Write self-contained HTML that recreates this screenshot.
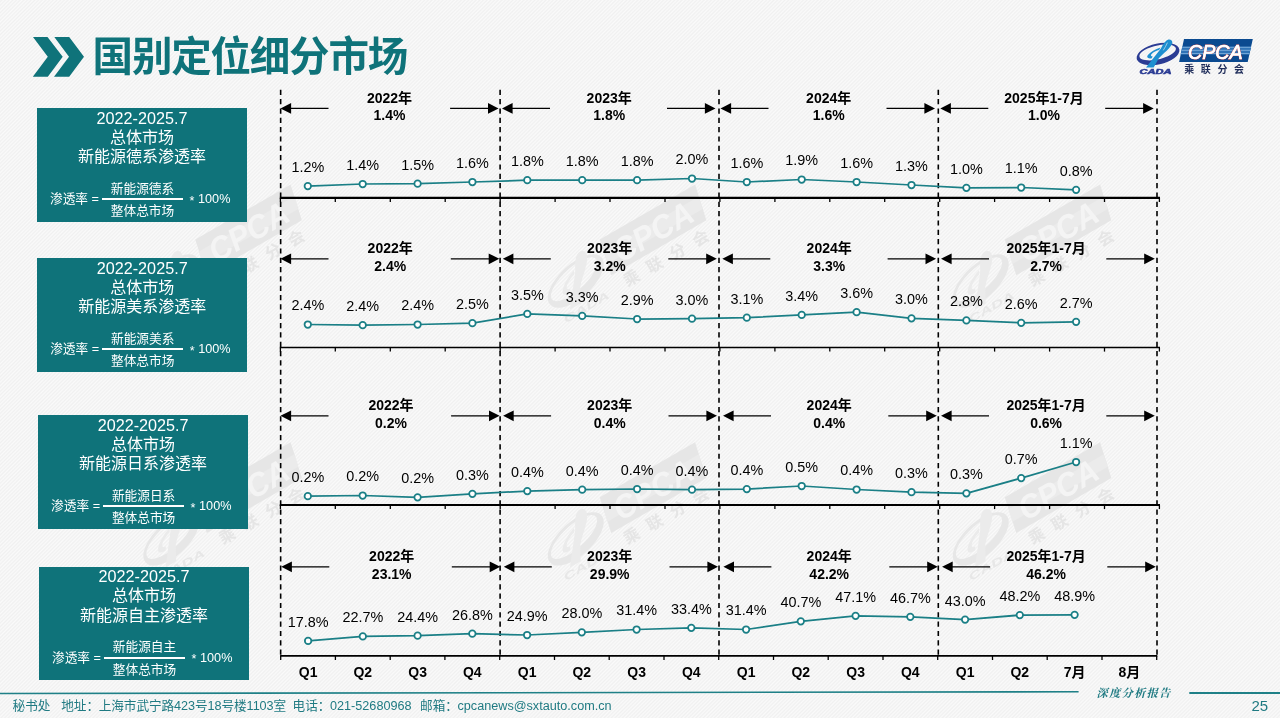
<!DOCTYPE html>
<html lang="zh-CN"><head><meta charset="utf-8"><title>国别定位细分市场</title>
<style>
html,body{margin:0;padding:0}
body{width:1280px;height:718px;overflow:hidden;position:relative;font-family:"Liberation Sans","Noto Sans CJK SC",sans-serif;
background:#f5f5f5 repeating-linear-gradient(135deg,#fafafa 0,#f0f0f0 1.3px,#fafafa 2.6px);}
svg{position:absolute;left:0;top:0}
.title{position:absolute;left:92.6px;top:29.2px;font-size:40.5px;line-height:56px;font-weight:bold;color:#0f737a;white-space:nowrap;letter-spacing:-1.2px}
.box{position:absolute;width:210px;height:113.7px;background:#0f737a;color:#fff;text-align:center}
.box div{position:absolute;left:0;width:100%;white-space:nowrap}
.t1{top:0.8px;font-size:16.2px;line-height:19px}
.t2{top:19.5px;font-size:16px;line-height:19px}
.t3{top:39px;font-size:16px;line-height:19px}
.f{top:70px;height:42px;font-size:12.7px}
.f span{position:absolute;white-space:nowrap}
.fl{left:13px;top:12px;line-height:18px}
.frac{left:65px;top:0;width:81px;height:42px}
.num{left:0;width:81px;top:1.5px;line-height:18px;text-align:center}
.bar{left:0;width:81px;top:20px;height:2px;background:#fff}
.den{left:0;width:81px;top:24px;line-height:18px;text-align:center}
.fr{left:152.5px;top:12px;line-height:18px}
.fr b{font-weight:normal;position:relative;top:1.8px}
.chart text{font-family:"Liberation Sans","Noto Sans CJK SC",sans-serif;text-anchor:middle}
.yr{font-size:14px;font-weight:bold;fill:#000}
.dl{font-size:14.4px;fill:#000}
.ql{font-size:14px;font-weight:bold;fill:#000}
.foot{position:absolute;left:0;top:696.5px;font-size:12.65px;line-height:18px;color:#1f7a82;white-space:nowrap}
.foot span{position:absolute;top:0}
.pg{position:absolute;left:1251.4px;top:697.3px;font-size:15px;line-height:18px;color:#1f7a82}
.rep{position:absolute;left:1096.6px;top:685.3px;font-size:11.3px;line-height:16px;color:#1f7a82;font-family:"Liberation Serif","Noto Serif CJK SC",serif;font-style:italic;font-weight:bold;letter-spacing:1.2px;white-space:nowrap}
</style></head><body>
<svg class="wm" width="1280" height="718" viewBox="0 0 1280 718"><g transform="translate(224.5,255.0) rotate(-30) scale(1.6) translate(-1195,-56.5)"><g transform="translate(1130,34) scale(0.06402)">
<path fill-rule="evenodd" fill="#e7e7e7" d="M106,352 A332,158 -13 1 0 770,272 A332,158 -13 1 0 106,352 Z M152,322 A285,106 -13 1 0 712,254 A285,106 -13 1 0 152,322 Z"/>
<path fill="#ebebeb" d="M600,85 C560,95 520,150 480,230 L250,525 L370,525 L450,380 C520,300 640,220 660,140 C665,100 640,80 600,85 Z"/>
<path fill="#ebebeb" d="M475,212 C400,235 300,290 270,345 C262,372 290,388 335,382 L355,350 C330,347 318,335 335,315 C360,285 420,258 455,250 Z"/>
</g>
<text x="1139.6" y="73.7" font-size="6.6" font-style="italic" font-weight="bold" fill="#e7e7e7" font-family='"Liberation Sans","Noto Sans CJK SC",sans-serif' textLength="32" lengthAdjust="spacingAndGlyphs">CADA</text>
<path d="M1184,39 L1252.8,39 L1247.7,61.9 L1179.1,61.9 Z" fill="#e6e6e6"/>
<path d="M1182.3,46.6 L1251.1,46.6 L1249.3,54.6 L1180.6,54.6 Z" fill="#ebebeb"/>
<text x="1188" y="58.5" font-size="20.4" font-style="italic" font-weight="bold" fill="#f4f4f4" font-family='"Liberation Sans","Noto Sans CJK SC",sans-serif' textLength="54.5" lengthAdjust="spacingAndGlyphs">CPCA</text>
<text x="1184.2" y="73.4" font-size="10" font-weight="bold" fill="#e5e5e5" font-family='"Liberation Sans","Noto Sans CJK SC",sans-serif' letter-spacing="6.6">乘联分会</text></g>
<g transform="translate(629.0,255.0) rotate(-30) scale(1.6) translate(-1195,-56.5)"><g transform="translate(1130,34) scale(0.06402)">
<path fill-rule="evenodd" fill="#e7e7e7" d="M106,352 A332,158 -13 1 0 770,272 A332,158 -13 1 0 106,352 Z M152,322 A285,106 -13 1 0 712,254 A285,106 -13 1 0 152,322 Z"/>
<path fill="#ebebeb" d="M600,85 C560,95 520,150 480,230 L250,525 L370,525 L450,380 C520,300 640,220 660,140 C665,100 640,80 600,85 Z"/>
<path fill="#ebebeb" d="M475,212 C400,235 300,290 270,345 C262,372 290,388 335,382 L355,350 C330,347 318,335 335,315 C360,285 420,258 455,250 Z"/>
</g>
<text x="1139.6" y="73.7" font-size="6.6" font-style="italic" font-weight="bold" fill="#e7e7e7" font-family='"Liberation Sans","Noto Sans CJK SC",sans-serif' textLength="32" lengthAdjust="spacingAndGlyphs">CADA</text>
<path d="M1184,39 L1252.8,39 L1247.7,61.9 L1179.1,61.9 Z" fill="#e6e6e6"/>
<path d="M1182.3,46.6 L1251.1,46.6 L1249.3,54.6 L1180.6,54.6 Z" fill="#ebebeb"/>
<text x="1188" y="58.5" font-size="20.4" font-style="italic" font-weight="bold" fill="#f4f4f4" font-family='"Liberation Sans","Noto Sans CJK SC",sans-serif' textLength="54.5" lengthAdjust="spacingAndGlyphs">CPCA</text>
<text x="1184.2" y="73.4" font-size="10" font-weight="bold" fill="#e5e5e5" font-family='"Liberation Sans","Noto Sans CJK SC",sans-serif' letter-spacing="6.6">乘联分会</text></g>
<g transform="translate(1034.0,255.0) rotate(-30) scale(1.6) translate(-1195,-56.5)"><g transform="translate(1130,34) scale(0.06402)">
<path fill-rule="evenodd" fill="#e7e7e7" d="M106,352 A332,158 -13 1 0 770,272 A332,158 -13 1 0 106,352 Z M152,322 A285,106 -13 1 0 712,254 A285,106 -13 1 0 152,322 Z"/>
<path fill="#ebebeb" d="M600,85 C560,95 520,150 480,230 L250,525 L370,525 L450,380 C520,300 640,220 660,140 C665,100 640,80 600,85 Z"/>
<path fill="#ebebeb" d="M475,212 C400,235 300,290 270,345 C262,372 290,388 335,382 L355,350 C330,347 318,335 335,315 C360,285 420,258 455,250 Z"/>
</g>
<text x="1139.6" y="73.7" font-size="6.6" font-style="italic" font-weight="bold" fill="#e7e7e7" font-family='"Liberation Sans","Noto Sans CJK SC",sans-serif' textLength="32" lengthAdjust="spacingAndGlyphs">CADA</text>
<path d="M1184,39 L1252.8,39 L1247.7,61.9 L1179.1,61.9 Z" fill="#e6e6e6"/>
<path d="M1182.3,46.6 L1251.1,46.6 L1249.3,54.6 L1180.6,54.6 Z" fill="#ebebeb"/>
<text x="1188" y="58.5" font-size="20.4" font-style="italic" font-weight="bold" fill="#f4f4f4" font-family='"Liberation Sans","Noto Sans CJK SC",sans-serif' textLength="54.5" lengthAdjust="spacingAndGlyphs">CPCA</text>
<text x="1184.2" y="73.4" font-size="10" font-weight="bold" fill="#e5e5e5" font-family='"Liberation Sans","Noto Sans CJK SC",sans-serif' letter-spacing="6.6">乘联分会</text></g>
<g transform="translate(224.5,512.8) rotate(-30) scale(1.6) translate(-1195,-56.5)"><g transform="translate(1130,34) scale(0.06402)">
<path fill-rule="evenodd" fill="#e7e7e7" d="M106,352 A332,158 -13 1 0 770,272 A332,158 -13 1 0 106,352 Z M152,322 A285,106 -13 1 0 712,254 A285,106 -13 1 0 152,322 Z"/>
<path fill="#ebebeb" d="M600,85 C560,95 520,150 480,230 L250,525 L370,525 L450,380 C520,300 640,220 660,140 C665,100 640,80 600,85 Z"/>
<path fill="#ebebeb" d="M475,212 C400,235 300,290 270,345 C262,372 290,388 335,382 L355,350 C330,347 318,335 335,315 C360,285 420,258 455,250 Z"/>
</g>
<text x="1139.6" y="73.7" font-size="6.6" font-style="italic" font-weight="bold" fill="#e7e7e7" font-family='"Liberation Sans","Noto Sans CJK SC",sans-serif' textLength="32" lengthAdjust="spacingAndGlyphs">CADA</text>
<path d="M1184,39 L1252.8,39 L1247.7,61.9 L1179.1,61.9 Z" fill="#e6e6e6"/>
<path d="M1182.3,46.6 L1251.1,46.6 L1249.3,54.6 L1180.6,54.6 Z" fill="#ebebeb"/>
<text x="1188" y="58.5" font-size="20.4" font-style="italic" font-weight="bold" fill="#f4f4f4" font-family='"Liberation Sans","Noto Sans CJK SC",sans-serif' textLength="54.5" lengthAdjust="spacingAndGlyphs">CPCA</text>
<text x="1184.2" y="73.4" font-size="10" font-weight="bold" fill="#e5e5e5" font-family='"Liberation Sans","Noto Sans CJK SC",sans-serif' letter-spacing="6.6">乘联分会</text></g>
<g transform="translate(629.0,512.8) rotate(-30) scale(1.6) translate(-1195,-56.5)"><g transform="translate(1130,34) scale(0.06402)">
<path fill-rule="evenodd" fill="#e7e7e7" d="M106,352 A332,158 -13 1 0 770,272 A332,158 -13 1 0 106,352 Z M152,322 A285,106 -13 1 0 712,254 A285,106 -13 1 0 152,322 Z"/>
<path fill="#ebebeb" d="M600,85 C560,95 520,150 480,230 L250,525 L370,525 L450,380 C520,300 640,220 660,140 C665,100 640,80 600,85 Z"/>
<path fill="#ebebeb" d="M475,212 C400,235 300,290 270,345 C262,372 290,388 335,382 L355,350 C330,347 318,335 335,315 C360,285 420,258 455,250 Z"/>
</g>
<text x="1139.6" y="73.7" font-size="6.6" font-style="italic" font-weight="bold" fill="#e7e7e7" font-family='"Liberation Sans","Noto Sans CJK SC",sans-serif' textLength="32" lengthAdjust="spacingAndGlyphs">CADA</text>
<path d="M1184,39 L1252.8,39 L1247.7,61.9 L1179.1,61.9 Z" fill="#e6e6e6"/>
<path d="M1182.3,46.6 L1251.1,46.6 L1249.3,54.6 L1180.6,54.6 Z" fill="#ebebeb"/>
<text x="1188" y="58.5" font-size="20.4" font-style="italic" font-weight="bold" fill="#f4f4f4" font-family='"Liberation Sans","Noto Sans CJK SC",sans-serif' textLength="54.5" lengthAdjust="spacingAndGlyphs">CPCA</text>
<text x="1184.2" y="73.4" font-size="10" font-weight="bold" fill="#e5e5e5" font-family='"Liberation Sans","Noto Sans CJK SC",sans-serif' letter-spacing="6.6">乘联分会</text></g>
<g transform="translate(1034.0,512.8) rotate(-30) scale(1.6) translate(-1195,-56.5)"><g transform="translate(1130,34) scale(0.06402)">
<path fill-rule="evenodd" fill="#e7e7e7" d="M106,352 A332,158 -13 1 0 770,272 A332,158 -13 1 0 106,352 Z M152,322 A285,106 -13 1 0 712,254 A285,106 -13 1 0 152,322 Z"/>
<path fill="#ebebeb" d="M600,85 C560,95 520,150 480,230 L250,525 L370,525 L450,380 C520,300 640,220 660,140 C665,100 640,80 600,85 Z"/>
<path fill="#ebebeb" d="M475,212 C400,235 300,290 270,345 C262,372 290,388 335,382 L355,350 C330,347 318,335 335,315 C360,285 420,258 455,250 Z"/>
</g>
<text x="1139.6" y="73.7" font-size="6.6" font-style="italic" font-weight="bold" fill="#e7e7e7" font-family='"Liberation Sans","Noto Sans CJK SC",sans-serif' textLength="32" lengthAdjust="spacingAndGlyphs">CADA</text>
<path d="M1184,39 L1252.8,39 L1247.7,61.9 L1179.1,61.9 Z" fill="#e6e6e6"/>
<path d="M1182.3,46.6 L1251.1,46.6 L1249.3,54.6 L1180.6,54.6 Z" fill="#ebebeb"/>
<text x="1188" y="58.5" font-size="20.4" font-style="italic" font-weight="bold" fill="#f4f4f4" font-family='"Liberation Sans","Noto Sans CJK SC",sans-serif' textLength="54.5" lengthAdjust="spacingAndGlyphs">CPCA</text>
<text x="1184.2" y="73.4" font-size="10" font-weight="bold" fill="#e5e5e5" font-family='"Liberation Sans","Noto Sans CJK SC",sans-serif' letter-spacing="6.6">乘联分会</text></g></svg>
<svg width="100" height="50" viewBox="0 0 100 50" style="left:0;top:30px">
<path d="M33,6.9 L47.5,6.9 L62.7,26.8 L47.8,46.7 L32.8,46.7 L47.8,26.8 Z" fill="#0f737a"/>
<path d="M54.3,6.9 L69.2,6.9 L84,26.8 L69.2,46.7 L54,46.7 L69,26.8 Z" fill="#0f737a"/>
</svg>
<div class="title">国别定位细分市场</div>
<svg class="logo" width="160" height="60" viewBox="1120 25 160 60" style="left:1120px;top:25px">
<g>
<g transform="translate(1130,34) scale(0.06402)">
<path fill-rule="evenodd" fill="#2b3c94" d="M106,352 A332,158 -13 1 0 770,272 A332,158 -13 1 0 106,352 Z M152,322 A285,106 -13 1 0 712,254 A285,106 -13 1 0 152,322 Z"/>
<path fill="#1f8fd0" d="M600,85 C560,95 520,150 480,230 L250,525 L370,525 L450,380 C520,300 640,220 660,140 C665,100 640,80 600,85 Z"/>
<path fill="#1f8fd0" d="M475,212 C400,235 300,290 270,345 C262,372 290,388 335,382 L355,350 C330,347 318,335 335,315 C360,285 420,258 455,250 Z"/>
<path d="M585,135 C570,170 545,215 520,255" stroke="#f4f4f4" stroke-width="9" fill="none"/>
</g>
<text x="1139.6" y="73.7" font-size="6.6" font-style="italic" font-weight="bold" fill="#2b3c94" stroke="#2b3c94" stroke-width="0.5" font-family='"Liberation Sans","Noto Sans CJK SC",sans-serif' textLength="32" lengthAdjust="spacingAndGlyphs">CADA</text>
<path d="M1184,39 L1252.8,39 L1247.7,61.9 L1179.1,61.9 Z" fill="#0b4a90"/>
<path d="M1182.3,46.6 L1251.1,46.6 L1249.3,54.6 L1180.6,54.6 Z" fill="#2f73b6"/>
<path d="M1182.2,47.3 L1251,47.3 M1181.5,50.3 L1250.3,50.3 M1180.8,53.6 L1249.6,53.6" stroke="#8db9e2" stroke-width="0.8"/>
<text x="1188" y="58.5" font-size="20.4" font-style="italic" fill="#fff" stroke="#e0392f" stroke-width="1.1" paint-order="stroke" font-family='"Liberation Sans","Noto Sans CJK SC",sans-serif' textLength="54.5" lengthAdjust="spacingAndGlyphs">CPCA</text>
<text x="1188" y="58.5" font-size="20.4" font-style="italic" fill="#fff" stroke="#fff" stroke-width="0.5" font-family='"Liberation Sans","Noto Sans CJK SC",sans-serif' textLength="54.5" lengthAdjust="spacingAndGlyphs">CPCA</text>
<text x="1184.2" y="73.4" font-size="10" font-weight="bold" fill="#1f2d5a" font-family='"Liberation Sans","Noto Sans CJK SC",sans-serif' letter-spacing="6.6">乘联分会</text>
</g></svg>
<div class="box" style="left:37px;top:108.1px">
<div class="t1">2022-2025.7</div><div class="t2">总体市场</div><div class="t3">新能源德系渗透率</div>
<div class="f"><span class="fl">渗透率 =</span><span class="frac"><span class="num">新能源德系</span><span class="bar"></span><span class="den">整体总市场</span></span><span class="fr"><b>*</b> 100%</span></div>
</div><div class="box" style="left:37.2px;top:258.1px">
<div class="t1">2022-2025.7</div><div class="t2">总体市场</div><div class="t3">新能源美系渗透率</div>
<div class="f"><span class="fl">渗透率 =</span><span class="frac"><span class="num">新能源美系</span><span class="bar"></span><span class="den">整体总市场</span></span><span class="fr"><b>*</b> 100%</span></div>
</div><div class="box" style="left:38.1px;top:415.3px">
<div class="t1">2022-2025.7</div><div class="t2">总体市场</div><div class="t3">新能源日系渗透率</div>
<div class="f"><span class="fl">渗透率 =</span><span class="frac"><span class="num">新能源日系</span><span class="bar"></span><span class="den">整体总市场</span></span><span class="fr"><b>*</b> 100%</span></div>
</div><div class="box" style="left:39.0px;top:566.5px">
<div class="t1">2022-2025.7</div><div class="t2">总体市场</div><div class="t3">新能源自主渗透率</div>
<div class="f"><span class="fl">渗透率 =</span><span class="frac"><span class="num">新能源自主</span><span class="bar"></span><span class="den">整体总市场</span></span><span class="fr"><b>*</b> 100%</span></div>
</div>
<svg class="chart" width="1280" height="718" viewBox="0 0 1280 718">
<line x1="280.65" y1="89.77" x2="280.65" y2="655" stroke="#000" stroke-width="1.6" stroke-dasharray="5.2 4.13"/>
<line x1="500.10" y1="89.77" x2="500.10" y2="655" stroke="#000" stroke-width="1.6" stroke-dasharray="5.2 4.13"/>
<line x1="719.00" y1="89.77" x2="719.00" y2="655" stroke="#000" stroke-width="1.6" stroke-dasharray="5.2 4.13"/>
<line x1="938.30" y1="89.77" x2="938.30" y2="655" stroke="#000" stroke-width="1.6" stroke-dasharray="5.2 4.13"/>
<line x1="1157.00" y1="89.77" x2="1157.00" y2="655" stroke="#000" stroke-width="1.6" stroke-dasharray="5.2 4.13"/>
<line x1="279.8" y1="197.9" x2="1160.0" y2="197.9" stroke="#000" stroke-width="2.3"/>
<line x1="280.4" y1="197.9" x2="280.4" y2="202.0" stroke="#000" stroke-width="1.3"/>
<line x1="335.3" y1="197.9" x2="335.3" y2="202.0" stroke="#000" stroke-width="1.3"/>
<line x1="390.3" y1="197.9" x2="390.3" y2="202.0" stroke="#000" stroke-width="1.3"/>
<line x1="445.2" y1="197.9" x2="445.2" y2="202.0" stroke="#000" stroke-width="1.3"/>
<line x1="500.2" y1="197.9" x2="500.2" y2="202.0" stroke="#000" stroke-width="1.3"/>
<line x1="555.1" y1="197.9" x2="555.1" y2="202.0" stroke="#000" stroke-width="1.3"/>
<line x1="610.0" y1="197.9" x2="610.0" y2="202.0" stroke="#000" stroke-width="1.3"/>
<line x1="665.0" y1="197.9" x2="665.0" y2="202.0" stroke="#000" stroke-width="1.3"/>
<line x1="719.9" y1="197.9" x2="719.9" y2="202.0" stroke="#000" stroke-width="1.3"/>
<line x1="774.9" y1="197.9" x2="774.9" y2="202.0" stroke="#000" stroke-width="1.3"/>
<line x1="829.8" y1="197.9" x2="829.8" y2="202.0" stroke="#000" stroke-width="1.3"/>
<line x1="884.7" y1="197.9" x2="884.7" y2="202.0" stroke="#000" stroke-width="1.3"/>
<line x1="939.7" y1="197.9" x2="939.7" y2="202.0" stroke="#000" stroke-width="1.3"/>
<line x1="994.6" y1="197.9" x2="994.6" y2="202.0" stroke="#000" stroke-width="1.3"/>
<line x1="1049.6" y1="197.9" x2="1049.6" y2="202.0" stroke="#000" stroke-width="1.3"/>
<line x1="1104.5" y1="197.9" x2="1104.5" y2="202.0" stroke="#000" stroke-width="1.3"/>
<line x1="1159.4" y1="197.9" x2="1159.4" y2="202.0" stroke="#000" stroke-width="1.3"/>
<line x1="328.5" y1="108.4" x2="288.5" y2="108.4" stroke="#000" stroke-width="1.35"/><path d="M280.5,108.4 l10.6,-5.35 v10.7 Z" fill="#000"/>
<line x1="450.1" y1="108.4" x2="490.6" y2="108.4" stroke="#000" stroke-width="1.35"/><path d="M498.6,108.4 l-10.6,-5.35 v10.7 Z" fill="#000"/>
<text class="yr" x="389.5" y="102.9">2022年</text>
<text class="yr" x="389.5" y="120.1">1.4%</text>
<line x1="550.0" y1="108.4" x2="510.0" y2="108.4" stroke="#000" stroke-width="1.35"/><path d="M502.0,108.4 l10.6,-5.35 v10.7 Z" fill="#000"/>
<line x1="667.0" y1="108.4" x2="707.5" y2="108.4" stroke="#000" stroke-width="1.35"/><path d="M715.5,108.4 l-10.6,-5.35 v10.7 Z" fill="#000"/>
<text class="yr" x="609.2" y="102.9">2023年</text>
<text class="yr" x="609.2" y="120.1">1.8%</text>
<line x1="768.5" y1="108.4" x2="728.5" y2="108.4" stroke="#000" stroke-width="1.35"/><path d="M720.5,108.4 l10.6,-5.35 v10.7 Z" fill="#000"/>
<line x1="886.5" y1="108.4" x2="927.0" y2="108.4" stroke="#000" stroke-width="1.35"/><path d="M935.0,108.4 l-10.6,-5.35 v10.7 Z" fill="#000"/>
<text class="yr" x="828.7" y="102.9">2024年</text>
<text class="yr" x="828.7" y="120.1">1.6%</text>
<line x1="988.3" y1="108.4" x2="948.3" y2="108.4" stroke="#000" stroke-width="1.35"/><path d="M940.3,108.4 l10.6,-5.35 v10.7 Z" fill="#000"/>
<line x1="1105.2" y1="108.4" x2="1145.7" y2="108.4" stroke="#000" stroke-width="1.35"/><path d="M1153.7,108.4 l-10.6,-5.35 v10.7 Z" fill="#000"/>
<text class="yr" x="1044.0" y="102.9">2025年1-7月</text>
<text class="yr" x="1044.0" y="120.1">1.0%</text>
<polyline points="307.8,186.1 362.7,184.0 417.6,183.7 472.4,182.0 527.3,180.2 582.2,180.2 637.1,180.2 692.0,178.5 746.8,182.0 801.7,179.5 856.6,182.0 911.5,185.0 966.4,187.8 1021.2,187.5 1076.1,189.8" fill="none" stroke="#1a7f86" stroke-width="1.75" stroke-linejoin="round"/>
<circle cx="307.8" cy="186.1" r="3.25" fill="#fff" stroke="#1a7f86" stroke-width="1.75"/>
<text class="dl" x="307.8" y="172.0">1.2%</text>
<circle cx="362.7" cy="184.0" r="3.25" fill="#fff" stroke="#1a7f86" stroke-width="1.75"/>
<text class="dl" x="362.7" y="169.9">1.4%</text>
<circle cx="417.6" cy="183.7" r="3.25" fill="#fff" stroke="#1a7f86" stroke-width="1.75"/>
<text class="dl" x="417.6" y="169.6">1.5%</text>
<circle cx="472.4" cy="182.0" r="3.25" fill="#fff" stroke="#1a7f86" stroke-width="1.75"/>
<text class="dl" x="472.4" y="167.9">1.6%</text>
<circle cx="527.3" cy="180.2" r="3.25" fill="#fff" stroke="#1a7f86" stroke-width="1.75"/>
<text class="dl" x="527.3" y="166.1">1.8%</text>
<circle cx="582.2" cy="180.2" r="3.25" fill="#fff" stroke="#1a7f86" stroke-width="1.75"/>
<text class="dl" x="582.2" y="166.1">1.8%</text>
<circle cx="637.1" cy="180.2" r="3.25" fill="#fff" stroke="#1a7f86" stroke-width="1.75"/>
<text class="dl" x="637.1" y="166.1">1.8%</text>
<circle cx="692.0" cy="178.5" r="3.25" fill="#fff" stroke="#1a7f86" stroke-width="1.75"/>
<text class="dl" x="692.0" y="164.4">2.0%</text>
<circle cx="746.8" cy="182.0" r="3.25" fill="#fff" stroke="#1a7f86" stroke-width="1.75"/>
<text class="dl" x="746.8" y="167.9">1.6%</text>
<circle cx="801.7" cy="179.5" r="3.25" fill="#fff" stroke="#1a7f86" stroke-width="1.75"/>
<text class="dl" x="801.7" y="165.4">1.9%</text>
<circle cx="856.6" cy="182.0" r="3.25" fill="#fff" stroke="#1a7f86" stroke-width="1.75"/>
<text class="dl" x="856.6" y="167.9">1.6%</text>
<circle cx="911.5" cy="185.0" r="3.25" fill="#fff" stroke="#1a7f86" stroke-width="1.75"/>
<text class="dl" x="911.5" y="170.9">1.3%</text>
<circle cx="966.4" cy="187.8" r="3.25" fill="#fff" stroke="#1a7f86" stroke-width="1.75"/>
<text class="dl" x="966.4" y="173.7">1.0%</text>
<circle cx="1021.2" cy="187.5" r="3.25" fill="#fff" stroke="#1a7f86" stroke-width="1.75"/>
<text class="dl" x="1021.2" y="173.4">1.1%</text>
<circle cx="1076.1" cy="189.8" r="3.25" fill="#fff" stroke="#1a7f86" stroke-width="1.75"/>
<text class="dl" x="1076.1" y="175.7">0.8%</text>
<line x1="279.8" y1="347.5" x2="1160.0" y2="347.5" stroke="#000" stroke-width="1.6"/>
<line x1="280.4" y1="347.5" x2="280.4" y2="351.6" stroke="#000" stroke-width="1.3"/>
<line x1="335.3" y1="347.5" x2="335.3" y2="351.6" stroke="#000" stroke-width="1.3"/>
<line x1="390.3" y1="347.5" x2="390.3" y2="351.6" stroke="#000" stroke-width="1.3"/>
<line x1="445.2" y1="347.5" x2="445.2" y2="351.6" stroke="#000" stroke-width="1.3"/>
<line x1="500.2" y1="347.5" x2="500.2" y2="351.6" stroke="#000" stroke-width="1.3"/>
<line x1="555.1" y1="347.5" x2="555.1" y2="351.6" stroke="#000" stroke-width="1.3"/>
<line x1="610.0" y1="347.5" x2="610.0" y2="351.6" stroke="#000" stroke-width="1.3"/>
<line x1="665.0" y1="347.5" x2="665.0" y2="351.6" stroke="#000" stroke-width="1.3"/>
<line x1="719.9" y1="347.5" x2="719.9" y2="351.6" stroke="#000" stroke-width="1.3"/>
<line x1="774.9" y1="347.5" x2="774.9" y2="351.6" stroke="#000" stroke-width="1.3"/>
<line x1="829.8" y1="347.5" x2="829.8" y2="351.6" stroke="#000" stroke-width="1.3"/>
<line x1="884.7" y1="347.5" x2="884.7" y2="351.6" stroke="#000" stroke-width="1.3"/>
<line x1="939.7" y1="347.5" x2="939.7" y2="351.6" stroke="#000" stroke-width="1.3"/>
<line x1="994.6" y1="347.5" x2="994.6" y2="351.6" stroke="#000" stroke-width="1.3"/>
<line x1="1049.6" y1="347.5" x2="1049.6" y2="351.6" stroke="#000" stroke-width="1.3"/>
<line x1="1104.5" y1="347.5" x2="1104.5" y2="351.6" stroke="#000" stroke-width="1.3"/>
<line x1="1159.4" y1="347.5" x2="1159.4" y2="351.6" stroke="#000" stroke-width="1.3"/>
<line x1="328.5" y1="258.8" x2="288.5" y2="258.8" stroke="#000" stroke-width="1.35"/><path d="M280.5,258.8 l10.6,-5.35 v10.7 Z" fill="#000"/>
<line x1="450.8" y1="258.8" x2="491.3" y2="258.8" stroke="#000" stroke-width="1.35"/><path d="M499.3,258.8 l-10.6,-5.35 v10.7 Z" fill="#000"/>
<text class="yr" x="390.2" y="253.3">2022年</text>
<text class="yr" x="390.2" y="270.5">2.4%</text>
<line x1="550.8" y1="258.8" x2="510.8" y2="258.8" stroke="#000" stroke-width="1.35"/><path d="M502.8,258.8 l10.6,-5.35 v10.7 Z" fill="#000"/>
<line x1="668.3" y1="258.8" x2="708.8" y2="258.8" stroke="#000" stroke-width="1.35"/><path d="M716.8,258.8 l-10.6,-5.35 v10.7 Z" fill="#000"/>
<text class="yr" x="609.7" y="253.3">2023年</text>
<text class="yr" x="609.7" y="270.5">3.2%</text>
<line x1="770.3" y1="258.8" x2="730.3" y2="258.8" stroke="#000" stroke-width="1.35"/><path d="M722.3,258.8 l10.6,-5.35 v10.7 Z" fill="#000"/>
<line x1="887.6" y1="258.8" x2="928.1" y2="258.8" stroke="#000" stroke-width="1.35"/><path d="M936.1,258.8 l-10.6,-5.35 v10.7 Z" fill="#000"/>
<text class="yr" x="829.2" y="253.3">2024年</text>
<text class="yr" x="829.2" y="270.5">3.3%</text>
<line x1="989.0" y1="258.8" x2="949.0" y2="258.8" stroke="#000" stroke-width="1.35"/><path d="M941.0,258.8 l10.6,-5.35 v10.7 Z" fill="#000"/>
<line x1="1106.3" y1="258.8" x2="1146.8" y2="258.8" stroke="#000" stroke-width="1.35"/><path d="M1154.8,258.8 l-10.6,-5.35 v10.7 Z" fill="#000"/>
<text class="yr" x="1046.1" y="253.3">2025年1-7月</text>
<text class="yr" x="1046.1" y="270.5">2.7%</text>
<polyline points="307.8,324.5 362.7,325.2 417.6,324.5 472.4,323.2 527.3,313.9 582.2,315.9 637.1,319.0 692.0,318.7 746.8,317.7 801.7,314.9 856.6,312.2 911.5,318.3 966.4,320.4 1021.2,322.8 1076.1,321.8" fill="none" stroke="#1a7f86" stroke-width="1.75" stroke-linejoin="round"/>
<circle cx="307.8" cy="324.5" r="3.25" fill="#fff" stroke="#1a7f86" stroke-width="1.75"/>
<text class="dl" x="307.8" y="310.4">2.4%</text>
<circle cx="362.7" cy="325.2" r="3.25" fill="#fff" stroke="#1a7f86" stroke-width="1.75"/>
<text class="dl" x="362.7" y="311.1">2.4%</text>
<circle cx="417.6" cy="324.5" r="3.25" fill="#fff" stroke="#1a7f86" stroke-width="1.75"/>
<text class="dl" x="417.6" y="310.4">2.4%</text>
<circle cx="472.4" cy="323.2" r="3.25" fill="#fff" stroke="#1a7f86" stroke-width="1.75"/>
<text class="dl" x="472.4" y="309.1">2.5%</text>
<circle cx="527.3" cy="313.9" r="3.25" fill="#fff" stroke="#1a7f86" stroke-width="1.75"/>
<text class="dl" x="527.3" y="299.8">3.5%</text>
<circle cx="582.2" cy="315.9" r="3.25" fill="#fff" stroke="#1a7f86" stroke-width="1.75"/>
<text class="dl" x="582.2" y="301.8">3.3%</text>
<circle cx="637.1" cy="319.0" r="3.25" fill="#fff" stroke="#1a7f86" stroke-width="1.75"/>
<text class="dl" x="637.1" y="304.9">2.9%</text>
<circle cx="692.0" cy="318.7" r="3.25" fill="#fff" stroke="#1a7f86" stroke-width="1.75"/>
<text class="dl" x="692.0" y="304.6">3.0%</text>
<circle cx="746.8" cy="317.7" r="3.25" fill="#fff" stroke="#1a7f86" stroke-width="1.75"/>
<text class="dl" x="746.8" y="303.6">3.1%</text>
<circle cx="801.7" cy="314.9" r="3.25" fill="#fff" stroke="#1a7f86" stroke-width="1.75"/>
<text class="dl" x="801.7" y="300.8">3.4%</text>
<circle cx="856.6" cy="312.2" r="3.25" fill="#fff" stroke="#1a7f86" stroke-width="1.75"/>
<text class="dl" x="856.6" y="298.1">3.6%</text>
<circle cx="911.5" cy="318.3" r="3.25" fill="#fff" stroke="#1a7f86" stroke-width="1.75"/>
<text class="dl" x="911.5" y="304.2">3.0%</text>
<circle cx="966.4" cy="320.4" r="3.25" fill="#fff" stroke="#1a7f86" stroke-width="1.75"/>
<text class="dl" x="966.4" y="306.3">2.8%</text>
<circle cx="1021.2" cy="322.8" r="3.25" fill="#fff" stroke="#1a7f86" stroke-width="1.75"/>
<text class="dl" x="1021.2" y="308.7">2.6%</text>
<circle cx="1076.1" cy="321.8" r="3.25" fill="#fff" stroke="#1a7f86" stroke-width="1.75"/>
<text class="dl" x="1076.1" y="307.7">2.7%</text>
<line x1="279.8" y1="505.0" x2="1160.0" y2="505.0" stroke="#000" stroke-width="2.2"/>
<line x1="280.4" y1="505.0" x2="280.4" y2="509.1" stroke="#000" stroke-width="1.3"/>
<line x1="335.3" y1="505.0" x2="335.3" y2="509.1" stroke="#000" stroke-width="1.3"/>
<line x1="390.3" y1="505.0" x2="390.3" y2="509.1" stroke="#000" stroke-width="1.3"/>
<line x1="445.2" y1="505.0" x2="445.2" y2="509.1" stroke="#000" stroke-width="1.3"/>
<line x1="500.2" y1="505.0" x2="500.2" y2="509.1" stroke="#000" stroke-width="1.3"/>
<line x1="555.1" y1="505.0" x2="555.1" y2="509.1" stroke="#000" stroke-width="1.3"/>
<line x1="610.0" y1="505.0" x2="610.0" y2="509.1" stroke="#000" stroke-width="1.3"/>
<line x1="665.0" y1="505.0" x2="665.0" y2="509.1" stroke="#000" stroke-width="1.3"/>
<line x1="719.9" y1="505.0" x2="719.9" y2="509.1" stroke="#000" stroke-width="1.3"/>
<line x1="774.9" y1="505.0" x2="774.9" y2="509.1" stroke="#000" stroke-width="1.3"/>
<line x1="829.8" y1="505.0" x2="829.8" y2="509.1" stroke="#000" stroke-width="1.3"/>
<line x1="884.7" y1="505.0" x2="884.7" y2="509.1" stroke="#000" stroke-width="1.3"/>
<line x1="939.7" y1="505.0" x2="939.7" y2="509.1" stroke="#000" stroke-width="1.3"/>
<line x1="994.6" y1="505.0" x2="994.6" y2="509.1" stroke="#000" stroke-width="1.3"/>
<line x1="1049.6" y1="505.0" x2="1049.6" y2="509.1" stroke="#000" stroke-width="1.3"/>
<line x1="1104.5" y1="505.0" x2="1104.5" y2="509.1" stroke="#000" stroke-width="1.3"/>
<line x1="1159.4" y1="505.0" x2="1159.4" y2="509.1" stroke="#000" stroke-width="1.3"/>
<line x1="328.5" y1="415.8" x2="288.5" y2="415.8" stroke="#000" stroke-width="1.35"/><path d="M280.5,415.8 l10.6,-5.35 v10.7 Z" fill="#000"/>
<line x1="451.1" y1="415.8" x2="491.6" y2="415.8" stroke="#000" stroke-width="1.35"/><path d="M499.6,415.8 l-10.6,-5.35 v10.7 Z" fill="#000"/>
<text class="yr" x="391.0" y="410.3">2022年</text>
<text class="yr" x="391.0" y="427.5">0.2%</text>
<line x1="551.1" y1="415.8" x2="511.1" y2="415.8" stroke="#000" stroke-width="1.35"/><path d="M503.1,415.8 l10.6,-5.35 v10.7 Z" fill="#000"/>
<line x1="668.5" y1="415.8" x2="709.0" y2="415.8" stroke="#000" stroke-width="1.35"/><path d="M717.0,415.8 l-10.6,-5.35 v10.7 Z" fill="#000"/>
<text class="yr" x="609.7" y="410.3">2023年</text>
<text class="yr" x="609.7" y="427.5">0.4%</text>
<line x1="771.0" y1="415.8" x2="731.0" y2="415.8" stroke="#000" stroke-width="1.35"/><path d="M723.0,415.8 l10.6,-5.35 v10.7 Z" fill="#000"/>
<line x1="888.3" y1="415.8" x2="928.8" y2="415.8" stroke="#000" stroke-width="1.35"/><path d="M936.8,415.8 l-10.6,-5.35 v10.7 Z" fill="#000"/>
<text class="yr" x="829.2" y="410.3">2024年</text>
<text class="yr" x="829.2" y="427.5">0.4%</text>
<line x1="989.0" y1="415.8" x2="949.0" y2="415.8" stroke="#000" stroke-width="1.35"/><path d="M941.0,415.8 l10.6,-5.35 v10.7 Z" fill="#000"/>
<line x1="1106.3" y1="415.8" x2="1146.8" y2="415.8" stroke="#000" stroke-width="1.35"/><path d="M1154.8,415.8 l-10.6,-5.35 v10.7 Z" fill="#000"/>
<text class="yr" x="1046.1" y="410.3">2025年1-7月</text>
<text class="yr" x="1046.1" y="427.5">0.6%</text>
<polyline points="307.8,496.2 362.7,495.5 417.6,497.3 472.4,493.8 527.3,491.1 582.2,489.7 637.1,489.0 692.0,489.7 746.8,489.1 801.7,486.0 856.6,489.5 911.5,492.2 966.4,493.3 1021.2,478.1 1076.1,462.0" fill="none" stroke="#1a7f86" stroke-width="1.75" stroke-linejoin="round"/>
<circle cx="307.8" cy="496.2" r="3.25" fill="#fff" stroke="#1a7f86" stroke-width="1.75"/>
<text class="dl" x="307.8" y="482.1">0.2%</text>
<circle cx="362.7" cy="495.5" r="3.25" fill="#fff" stroke="#1a7f86" stroke-width="1.75"/>
<text class="dl" x="362.7" y="481.4">0.2%</text>
<circle cx="417.6" cy="497.3" r="3.25" fill="#fff" stroke="#1a7f86" stroke-width="1.75"/>
<text class="dl" x="417.6" y="483.2">0.2%</text>
<circle cx="472.4" cy="493.8" r="3.25" fill="#fff" stroke="#1a7f86" stroke-width="1.75"/>
<text class="dl" x="472.4" y="479.7">0.3%</text>
<circle cx="527.3" cy="491.1" r="3.25" fill="#fff" stroke="#1a7f86" stroke-width="1.75"/>
<text class="dl" x="527.3" y="477.0">0.4%</text>
<circle cx="582.2" cy="489.7" r="3.25" fill="#fff" stroke="#1a7f86" stroke-width="1.75"/>
<text class="dl" x="582.2" y="475.6">0.4%</text>
<circle cx="637.1" cy="489.0" r="3.25" fill="#fff" stroke="#1a7f86" stroke-width="1.75"/>
<text class="dl" x="637.1" y="474.9">0.4%</text>
<circle cx="692.0" cy="489.7" r="3.25" fill="#fff" stroke="#1a7f86" stroke-width="1.75"/>
<text class="dl" x="692.0" y="475.6">0.4%</text>
<circle cx="746.8" cy="489.1" r="3.25" fill="#fff" stroke="#1a7f86" stroke-width="1.75"/>
<text class="dl" x="746.8" y="475.0">0.4%</text>
<circle cx="801.7" cy="486.0" r="3.25" fill="#fff" stroke="#1a7f86" stroke-width="1.75"/>
<text class="dl" x="801.7" y="471.9">0.5%</text>
<circle cx="856.6" cy="489.5" r="3.25" fill="#fff" stroke="#1a7f86" stroke-width="1.75"/>
<text class="dl" x="856.6" y="475.4">0.4%</text>
<circle cx="911.5" cy="492.2" r="3.25" fill="#fff" stroke="#1a7f86" stroke-width="1.75"/>
<text class="dl" x="911.5" y="478.1">0.3%</text>
<circle cx="966.4" cy="493.3" r="3.25" fill="#fff" stroke="#1a7f86" stroke-width="1.75"/>
<text class="dl" x="966.4" y="479.2">0.3%</text>
<circle cx="1021.2" cy="478.1" r="3.25" fill="#fff" stroke="#1a7f86" stroke-width="1.75"/>
<text class="dl" x="1021.2" y="464.0">0.7%</text>
<circle cx="1076.1" cy="462.0" r="3.25" fill="#fff" stroke="#1a7f86" stroke-width="1.75"/>
<text class="dl" x="1076.1" y="447.9">1.1%</text>
<line x1="280.1" y1="655.9" x2="1157.3" y2="655.9" stroke="#000" stroke-width="1.9"/>
<line x1="280.7" y1="655.9" x2="280.7" y2="660.0" stroke="#000" stroke-width="1.3"/>
<line x1="335.4" y1="655.9" x2="335.4" y2="660.0" stroke="#000" stroke-width="1.3"/>
<line x1="390.2" y1="655.9" x2="390.2" y2="660.0" stroke="#000" stroke-width="1.3"/>
<line x1="444.9" y1="655.9" x2="444.9" y2="660.0" stroke="#000" stroke-width="1.3"/>
<line x1="499.7" y1="655.9" x2="499.7" y2="660.0" stroke="#000" stroke-width="1.3"/>
<line x1="554.5" y1="655.9" x2="554.5" y2="660.0" stroke="#000" stroke-width="1.3"/>
<line x1="609.2" y1="655.9" x2="609.2" y2="660.0" stroke="#000" stroke-width="1.3"/>
<line x1="664.0" y1="655.9" x2="664.0" y2="660.0" stroke="#000" stroke-width="1.3"/>
<line x1="718.7" y1="655.9" x2="718.7" y2="660.0" stroke="#000" stroke-width="1.3"/>
<line x1="773.5" y1="655.9" x2="773.5" y2="660.0" stroke="#000" stroke-width="1.3"/>
<line x1="828.2" y1="655.9" x2="828.2" y2="660.0" stroke="#000" stroke-width="1.3"/>
<line x1="883.0" y1="655.9" x2="883.0" y2="660.0" stroke="#000" stroke-width="1.3"/>
<line x1="937.7" y1="655.9" x2="937.7" y2="660.0" stroke="#000" stroke-width="1.3"/>
<line x1="992.5" y1="655.9" x2="992.5" y2="660.0" stroke="#000" stroke-width="1.3"/>
<line x1="1047.2" y1="655.9" x2="1047.2" y2="660.0" stroke="#000" stroke-width="1.3"/>
<line x1="1102.0" y1="655.9" x2="1102.0" y2="660.0" stroke="#000" stroke-width="1.3"/>
<line x1="1156.7" y1="655.9" x2="1156.7" y2="660.0" stroke="#000" stroke-width="1.3"/>
<line x1="329.3" y1="566.8" x2="289.3" y2="566.8" stroke="#000" stroke-width="1.35"/><path d="M281.3,566.8 l10.6,-5.35 v10.7 Z" fill="#000"/>
<line x1="451.8" y1="566.8" x2="492.3" y2="566.8" stroke="#000" stroke-width="1.35"/><path d="M500.3,566.8 l-10.6,-5.35 v10.7 Z" fill="#000"/>
<text class="yr" x="391.7" y="561.3">2022年</text>
<text class="yr" x="391.7" y="578.5">23.1%</text>
<line x1="551.8" y1="566.8" x2="511.8" y2="566.8" stroke="#000" stroke-width="1.35"/><path d="M503.8,566.8 l10.6,-5.35 v10.7 Z" fill="#000"/>
<line x1="669.5" y1="566.8" x2="710.0" y2="566.8" stroke="#000" stroke-width="1.35"/><path d="M718.0,566.8 l-10.6,-5.35 v10.7 Z" fill="#000"/>
<text class="yr" x="609.7" y="561.3">2023年</text>
<text class="yr" x="609.7" y="578.5">29.9%</text>
<line x1="771.4" y1="566.8" x2="731.4" y2="566.8" stroke="#000" stroke-width="1.35"/><path d="M723.4,566.8 l10.6,-5.35 v10.7 Z" fill="#000"/>
<line x1="889.3" y1="566.8" x2="929.8" y2="566.8" stroke="#000" stroke-width="1.35"/><path d="M937.8,566.8 l-10.6,-5.35 v10.7 Z" fill="#000"/>
<text class="yr" x="829.2" y="561.3">2024年</text>
<text class="yr" x="829.2" y="578.5">42.2%</text>
<line x1="990.1" y1="566.8" x2="950.1" y2="566.8" stroke="#000" stroke-width="1.35"/><path d="M942.1,566.8 l10.6,-5.35 v10.7 Z" fill="#000"/>
<line x1="1107.3" y1="566.8" x2="1147.8" y2="566.8" stroke="#000" stroke-width="1.35"/><path d="M1155.8,566.8 l-10.6,-5.35 v10.7 Z" fill="#000"/>
<text class="yr" x="1046.1" y="561.3">2025年1-7月</text>
<text class="yr" x="1046.1" y="578.5">46.2%</text>
<polyline points="308.1,640.9 362.8,636.4 417.6,635.7 472.3,633.7 527.1,635.0 581.8,632.3 636.6,629.5 691.3,627.8 746.1,629.5 800.8,621.3 855.6,615.8 910.3,616.8 965.1,619.6 1019.8,615.1 1074.6,614.8" fill="none" stroke="#1a7f86" stroke-width="1.75" stroke-linejoin="round"/>
<circle cx="308.1" cy="640.9" r="3.25" fill="#fff" stroke="#1a7f86" stroke-width="1.75"/>
<text class="dl" x="308.1" y="626.8">17.8%</text>
<circle cx="362.8" cy="636.4" r="3.25" fill="#fff" stroke="#1a7f86" stroke-width="1.75"/>
<text class="dl" x="362.8" y="622.3">22.7%</text>
<circle cx="417.6" cy="635.7" r="3.25" fill="#fff" stroke="#1a7f86" stroke-width="1.75"/>
<text class="dl" x="417.6" y="621.6">24.4%</text>
<circle cx="472.3" cy="633.7" r="3.25" fill="#fff" stroke="#1a7f86" stroke-width="1.75"/>
<text class="dl" x="472.3" y="619.6">26.8%</text>
<circle cx="527.1" cy="635.0" r="3.25" fill="#fff" stroke="#1a7f86" stroke-width="1.75"/>
<text class="dl" x="527.1" y="620.9">24.9%</text>
<circle cx="581.8" cy="632.3" r="3.25" fill="#fff" stroke="#1a7f86" stroke-width="1.75"/>
<text class="dl" x="581.8" y="618.2">28.0%</text>
<circle cx="636.6" cy="629.5" r="3.25" fill="#fff" stroke="#1a7f86" stroke-width="1.75"/>
<text class="dl" x="636.6" y="615.4">31.4%</text>
<circle cx="691.3" cy="627.8" r="3.25" fill="#fff" stroke="#1a7f86" stroke-width="1.75"/>
<text class="dl" x="691.3" y="613.7">33.4%</text>
<circle cx="746.1" cy="629.5" r="3.25" fill="#fff" stroke="#1a7f86" stroke-width="1.75"/>
<text class="dl" x="746.1" y="615.4">31.4%</text>
<circle cx="800.8" cy="621.3" r="3.25" fill="#fff" stroke="#1a7f86" stroke-width="1.75"/>
<text class="dl" x="800.8" y="607.2">40.7%</text>
<circle cx="855.6" cy="615.8" r="3.25" fill="#fff" stroke="#1a7f86" stroke-width="1.75"/>
<text class="dl" x="855.6" y="601.7">47.1%</text>
<circle cx="910.3" cy="616.8" r="3.25" fill="#fff" stroke="#1a7f86" stroke-width="1.75"/>
<text class="dl" x="910.3" y="602.7">46.7%</text>
<circle cx="965.1" cy="619.6" r="3.25" fill="#fff" stroke="#1a7f86" stroke-width="1.75"/>
<text class="dl" x="965.1" y="605.5">43.0%</text>
<circle cx="1019.8" cy="615.1" r="3.25" fill="#fff" stroke="#1a7f86" stroke-width="1.75"/>
<text class="dl" x="1019.8" y="601.0">48.2%</text>
<circle cx="1074.6" cy="614.8" r="3.25" fill="#fff" stroke="#1a7f86" stroke-width="1.75"/>
<text class="dl" x="1074.6" y="600.7">48.9%</text>
<text class="ql" x="308.1" y="677.1">Q1</text>
<text class="ql" x="362.8" y="677.1">Q2</text>
<text class="ql" x="417.6" y="677.1">Q3</text>
<text class="ql" x="472.3" y="677.1">Q4</text>
<text class="ql" x="527.1" y="677.1">Q1</text>
<text class="ql" x="581.8" y="677.1">Q2</text>
<text class="ql" x="636.6" y="677.1">Q3</text>
<text class="ql" x="691.3" y="677.1">Q4</text>
<text class="ql" x="746.1" y="677.1">Q1</text>
<text class="ql" x="800.8" y="677.1">Q2</text>
<text class="ql" x="855.6" y="677.1">Q3</text>
<text class="ql" x="910.3" y="677.1">Q4</text>
<text class="ql" x="965.1" y="677.1">Q1</text>
<text class="ql" x="1019.8" y="677.1">Q2</text>
<text class="ql" x="1074.6" y="677.1">7月</text>
<text class="ql" x="1129.3" y="677.1">8月</text>
</svg>
<svg width="1280" height="718" viewBox="0 0 1280 718"><line x1="0" y1="693.5" x2="1078.6" y2="691.8" stroke="#1f8087" stroke-width="1.6"/><line x1="1189.3" y1="693" x2="1280" y2="693" stroke="#1f8087" stroke-width="2"/></svg>
<div class="rep">深度分析报告</div>
<div class="foot"><span style="left:12.5px">秘书处</span><span style="left:61.2px">地址：</span><span style="left:98.7px;letter-spacing:-0.07px">上海市武宁路423号18号楼1103室</span><span style="left:292.5px">电话：</span><span style="left:330px">021-52680968</span><span style="left:420px">邮箱：</span><span style="left:457.5px">cpcanews@sxtauto.com.cn</span></div>
<div class="pg">25</div>
</body></html>
